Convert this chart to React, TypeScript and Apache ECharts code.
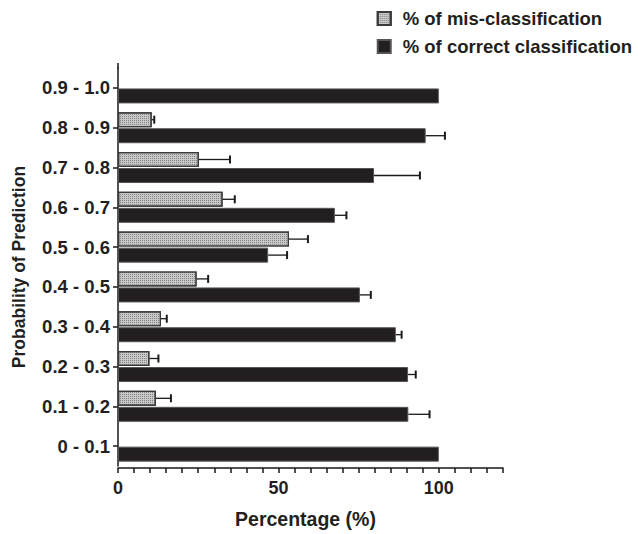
import React, { useEffect, useRef } from "react";
import * as echarts from "echarts";

const categories = ["0 - 0.1", "0.1 - 0.2", "0.2 - 0.3", "0.3 - 0.4", "0.4 - 0.5", "0.5 - 0.6", "0.6 - 0.7", "0.7 - 0.8", "0.8 - 0.9", "0.9 - 1.0"];
const misValues = [null, 11.8, 9.8, 13.4, 24.5, 53.3, 32.6, 25.2, 10.5, null];
const misErrors = [0, 4.7, 2.8, 1.8, 3.6, 5.9, 3.8, 9.7, 0.8, 0];
const correctValues = [100, 90.5, 90.4, 86.6, 75.4, 46.8, 67.6, 79.8, 95.9, 100];
const correctErrors = [0, 6.6, 2.4, 1.8, 3.4, 5.9, 3.6, 14.3, 6.0, 0];
const xTicks = [0, 50, 100];

const FONT = "Liberation Sans, Arial, Helvetica, sans-serif";
const INK = "#231f20";

function errorSeries(values: (number | null)[], errors: number[], offset: number) {
  const data = values.map((v, i) => [v == null ? 0 : v, i, v == null ? 0 : errors[i]]);
  return {
    type: "custom",
    z: 5,
    silent: true,
    encode: { x: 0, y: 1 },
    data,
    renderItem: (params: any, api: any) => {
      const v = api.value(0);
      const idx = api.value(1);
      const e = api.value(2);
      if (!e) return { type: "group", children: [] };
      const p1 = api.coord([v, idx]);
      const p2 = api.coord([v + e, idx]);
      const y = p1[1] + offset;
      return {
        type: "group",
        children: [
          { type: "line", shape: { x1: p1[0], y1: y, x2: p2[0], y2: y }, style: { stroke: "#1a1a1a", lineWidth: 1.3 } },
          { type: "line", shape: { x1: p2[0], y1: y - 4, x2: p2[0], y2: y + 4 }, style: { stroke: "#1a1a1a", lineWidth: 2 } },
        ],
      };
    },
  };
}

export default function App() {
  const ref = useRef<HTMLDivElement>(null);
  useEffect(() => {
    if (!ref.current) return;
    const chart = echarts.init(ref.current, null, { renderer: "svg" });
    chart.setOption({
      animation: false,
      backgroundColor: "#ffffff",
      textStyle: { fontFamily: FONT },
      legend: {
        orient: "vertical",
        right: 1,
        top: 4,
        itemWidth: 13,
        itemHeight: 13,
        itemGap: 9,
        icon: "rect",
        textStyle: { fontFamily: FONT, fontWeight: "bold", fontSize: 18.5, color: INK, padding: [0, 0, 0, 7] },
        data: ["% of mis-classification", "% of correct classification"],
      },
      graphic: [
        { type: "line", shape: { x1: 118, y1: 63, x2: 118, y2: 69 }, style: { stroke: "#1a1a1a", lineWidth: 1.5 } },
      ],
      grid: { left: 118, right: 135, top: 68, bottom: 67, containLabel: false },
      xAxis: {
        type: "value",
        min: 0,
        max: 120,
        interval: 5,
        offset: 2,
        name: "Percentage (%)",
        nameLocation: "middle",
        nameGap: 41,
        nameTextStyle: { fontFamily: FONT, fontWeight: "bold", fontSize: 19.5, color: INK, padding: [0, 10, 0, 0] },
        axisLine: { show: true, lineStyle: { color: "#1a1a1a", width: 1.5 } },
        axisTick: { show: true, length: 5, lineStyle: { color: "#1a1a1a", width: 1.5 } },
        axisLabel: {
          margin: 11,
          fontFamily: FONT,
          fontWeight: "bold",
          fontSize: 18,
          color: INK,
          formatter: (val: number) => (xTicks.indexOf(val) >= 0 ? String(val) : ""),
        },
        splitLine: { show: false },
      },
      yAxis: {
        type: "category",
        data: categories,
        name: "Probability of Prediction",
        nameLocation: "middle",
        nameGap: 90,
        nameTextStyle: { fontFamily: FONT, fontWeight: "bold", fontSize: 17.5, color: INK },
        axisLine: { show: true, lineStyle: { color: "#1a1a1a", width: 1.5 } },
        axisTick: { show: true, alignWithLabel: true, length: 5, lineStyle: { color: "#1a1a1a", width: 1.5 } },
        axisLabel: { margin: 8, fontFamily: FONT, fontWeight: "bold", fontSize: 18.5, color: INK },
      },
      series: [
        {
          name: "% of mis-classification",
          type: "bar",
          data: misValues,
          barWidth: 15,
          barGap: "7%",
          itemStyle: {
            color: "#c9c9c9",
            borderColor: "#3a3a3a",
            borderWidth: 1.2,
            decal: {
              symbol: "rect",
              symbolSize: 1,
              color: "rgba(70,70,70,0.55)",
              dashArrayX: [1, 1],
              dashArrayY: [1, 1],
              rotation: 0,
            },
          },
        },
        {
          name: "% of correct classification",
          type: "bar",
          data: correctValues,
          barWidth: 15,
          barGap: "7%",
          itemStyle: { color: INK, borderColor: "#555555", borderWidth: 1 },
        },
        errorSeries(misValues, misErrors, -8),
        errorSeries(correctValues, correctErrors, 8),
      ],
    });
    return () => chart.dispose();
  }, []);
  return <div ref={ref} style={{ position: "fixed", left: 0, top: 0, width: 638, height: 534 }} />;
}
